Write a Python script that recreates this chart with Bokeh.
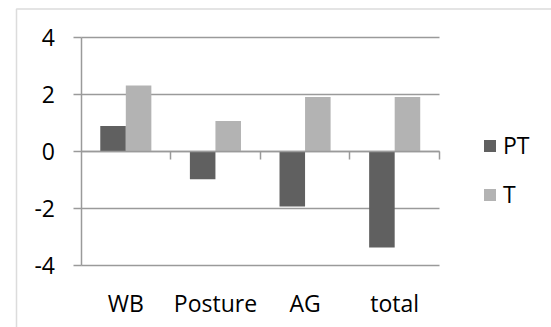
from bokeh.plotting import figure
from bokeh.models import (Range1d, LinearAxis, FixedTicker, Legend, LegendItem,
                          BoxAnnotation, ColumnDataSource, Grid)
from bokeh.embed import file_html
from bokeh.resources import INLINE

# ---- data ----
categories = ["WB", "Posture", "AG", "total"]
pt_values = [0.9, -0.97, -1.93, -3.37]
t_values = [2.32, 1.08, 1.92, 1.92]
y_ticks = [-4, -2, 0, 2, 4]
y_tick_labels = ["-4", "-2", "0", "2", "4"]
series_names = ["PT", "T"]
series_colors = ["#606060", "#b3b3b3"]

FONT = "Open Sans"
FSIZE = "23px"
GRID = "#9a9a9a"

centers = [i + 0.5 for i in range(len(categories))]
boundaries = [i + 1 for i in range(len(categories))]
off = 0.1425
bw = 0.285

p = figure(width=551, height=327, output_backend="svg", toolbar_location=None,
           x_axis_type=None, y_axis_type=None,
           x_range=Range1d(-0.8982, 5.2497), y_range=Range1d(-6.1783, 5.3105),
           min_border_left=0, min_border_right=0, min_border_top=0,
           min_border_bottom=0, background_fill_color="white",
           border_fill_color="white", outline_line_color=None)

src = ColumnDataSource(dict(
    x_pt=[c - off for c in centers], x_t=[c + off for c in centers],
    pt=pt_values, t=t_values, cat=categories))

r_pt = p.vbar(x="x_pt", top="pt", bottom=0, width=bw, source=src,
              fill_color=series_colors[0], line_color=None)
r_t = p.vbar(x="x_t", top="t", bottom=0, width=bw, source=src,
             fill_color=series_colors[1], line_color=None)

# horizontal gridlines, limited to the category span
grid = Grid(dimension=1, ticker=FixedTicker(ticks=y_ticks), cross_bounds=(0, 4),
            grid_line_color=GRID, grid_line_width=1.5)
p.add_layout(grid)

# value axis at x = 0
yax = LinearAxis(fixed_location=0, bounds=(-4, 4),
                 ticker=FixedTicker(ticks=y_ticks),
                 major_label_overrides={t: s for t, s in zip(y_ticks, y_tick_labels)},
                 axis_line_color=GRID,
                 axis_line_width=1.5, major_tick_line_color=GRID,
                 major_tick_line_width=1.5, major_tick_out=8, major_tick_in=0,
                 minor_tick_line_color=None, major_label_standoff=18,
                 major_label_text_font=FONT, major_label_text_font_size=FSIZE,
                 major_label_text_color="black")
p.add_layout(yax, "left")

# zero axis line with category boundary ticks
zax = LinearAxis(fixed_location=0, bounds=(0, 4), ticker=FixedTicker(ticks=boundaries),
                 major_label_overrides={b: "" for b in boundaries},
                 axis_line_color=GRID, axis_line_width=1.5,
                 major_tick_line_color=GRID, major_tick_line_width=1.5,
                 major_tick_out=8, major_tick_in=0, minor_tick_line_color=None,
                 major_label_text_color=None)
p.add_layout(zax, "below")

# category labels under the plot area
xax = LinearAxis(fixed_location=-4, ticker=FixedTicker(ticks=centers),
                 major_label_overrides={c: n for c, n in zip(centers, categories)},
                 axis_line_color=None, major_tick_line_color=None,
                 minor_tick_line_color=None, major_tick_out=0, major_tick_in=0,
                 major_label_standoff=21, major_label_text_font=FONT,
                 major_label_text_font_size=FSIZE, major_label_text_color="black")
p.add_layout(xax, "below")

legend = Legend(items=[LegendItem(label=series_names[0], renderers=[r_pt]),
                       LegendItem(label=series_names[1], renderers=[r_t])],
                location=(482, 117), orientation="vertical", border_line_color=None,
                background_fill_alpha=0, padding=0, margin=0, glyph_width=15,
                glyph_height=15, label_standoff=6, spacing=17,
                label_text_font=FONT, label_text_font_size=FSIZE,
                label_text_color="black")
p.add_layout(legend)

# outer chart border (top and left edges visible)
border = BoxAnnotation(left=16, right=3000, top=8.5, bottom=3000,
                       left_units="canvas", right_units="canvas",
                       top_units="canvas", bottom_units="canvas",
                       fill_color=None, line_color="#8a8a8a", line_width=1.5)
p.add_layout(border)

open("out.html", "w").write(file_html(p, INLINE))
